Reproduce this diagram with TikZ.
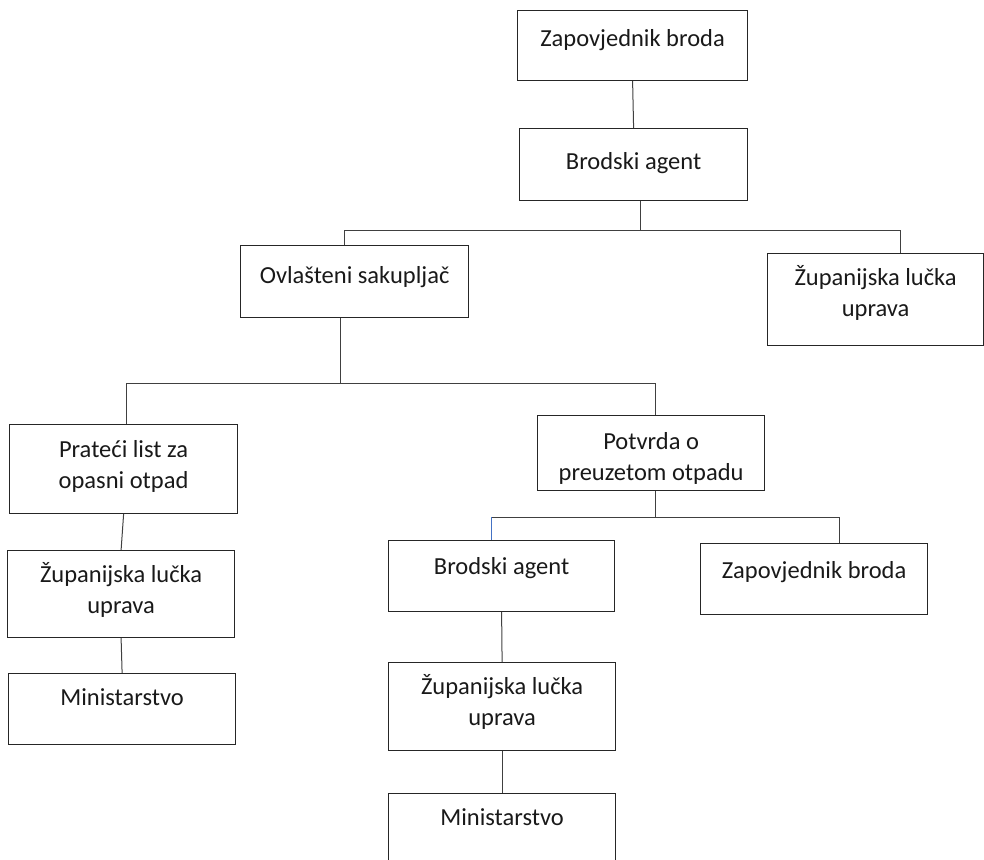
\documentclass[tikz,border=0pt]{standalone}
\usepackage{fontspec}
\setmainfont{Carlito}
\definecolor{wordblue}{RGB}{68,114,196}
\tikzset{
  box/.style={draw=black!85, line width=1.2bp, inner sep=0pt, anchor=north west,
    text=black!90, font=\fontsize{24.5bp}{31bp}\selectfont},
  link/.style={draw=black!75, line width=1bp},
}
\newcommand{\boxtxt}[4][32bp]{\parbox[c][#3][t]{#2}{\centering\rule{0pt}{#1}#4}}

\begin{document}
\begin{tikzpicture}[x=1bp, y=-1bp]
  \clip (0,0) rectangle (984,860);
  % top chain
  \node[box] (capt)   at (517,10)  {\boxtxt[36bp]{230bp}{70bp}{Zapovjednik broda}};
  \node[box] (agent)  at (519,128) {\boxtxt[41bp]{228bp}{72bp}{Brodski agent}};
  \node[box] (coll)   at (240,245) {\boxtxt[38bp]{228bp}{72bp}{Ovlašteni sakupljač}};
  \node[box] (port)   at (767,253) {\boxtxt{216bp}{92bp}{Županijska lučka\\uprava}};

  % left branch
  \node[box] (list)   at (9,424)   {\boxtxt[33bp]{228bp}{89bp}{Prateći list za\\opasni otpad}};
  \node[box] (portL)  at (7,550)   {\boxtxt{227bp}{87bp}{Županijska lučka\\uprava}};
  \node[box] (minL)   at (8,673)   {\boxtxt{227bp}{71bp}{Ministarstvo}};

  % right branch
  \node[box] (conf)   at (537,415) {\boxtxt[34bp]{227bp}{75bp}{Potvrda o\\preuzetom otpadu}};
  \node[box] (agentR) at (388,540) {\boxtxt[34bp]{226bp}{71bp}{Brodski agent}};
  \node[box] (captR)  at (700,543) {\boxtxt[35bp]{227bp}{71bp}{Zapovjednik broda}};
  \node[box] (portR)  at (388,662) {\boxtxt{227bp}{88bp}{Županijska lučka\\uprava}};
  \node[box] (minR)   at (388,793) {\boxtxt{227bp}{80bp}{Ministarstvo}};

  % junctions
  \coordinate (j1) at (640,230);
  \coordinate (b1) at (344,230);
  \coordinate (b2) at (900,230);
  \coordinate (c0) at (340,383);
  \coordinate (c1) at (126,383);
  \coordinate (c2) at (655,383);
  \coordinate (d0) at (655,517);
  \coordinate (d1) at (491,517);
  \coordinate (d2) at (839,517);

  \draw[link] (capt.south) -- (agent.north);
  \draw[link] (agent.south -| j1) -- (j1);
  \draw[link] (coll.north -| b1) |- (b2) -- (port.north -| b2);

  \draw[link] (coll.south -| c0) -- (c0);
  \draw[link] (list.north -| c1) |- (c2) -- (conf.north -| c2);
  \draw[link] (list.south) -- (portL.north);
  \draw[link] (portL.south) -- (minL.north);

  \draw[link] (conf.south -| d0) -- (d0);
  \draw[link] (d1) -- (d2) -- (captR.north -| d2);
  \draw[link, draw=wordblue] (agentR.north -| d1) -- (d1);
  \draw[link] (agentR.south) -- (portR.north);
  \draw[link] (portR.south) -- (minR.north);
\end{tikzpicture}
\end{document}
